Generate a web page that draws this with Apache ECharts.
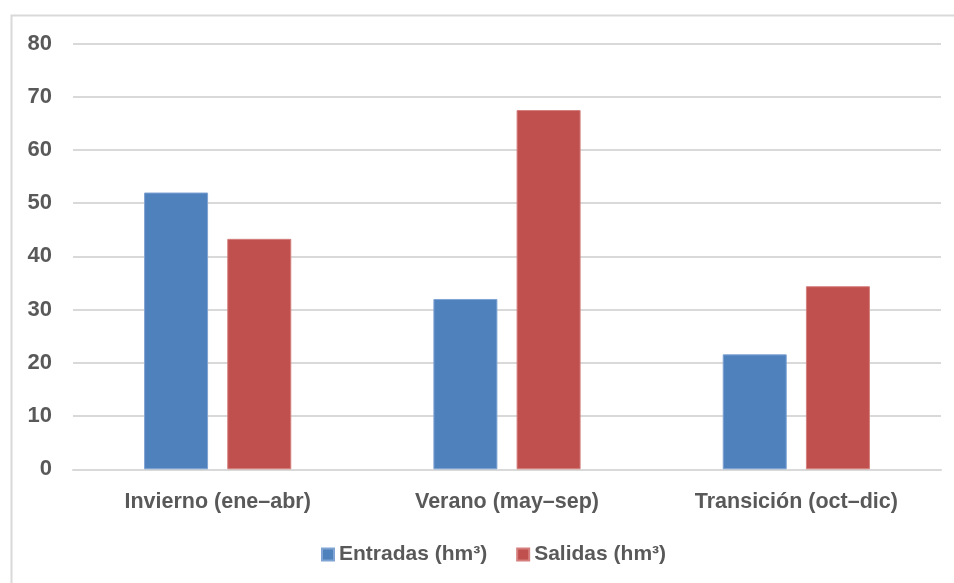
<!DOCTYPE html>
<html>
<head>
<meta charset="utf-8">
<script src="https://cdn.jsdelivr.net/npm/echarts@6/dist/echarts.min.js"></script>
<style>
  html, body { margin: 0; padding: 0; background: #ffffff; }
  #chart { width: 954px; height: 583px; }
</style>
</head>
<body>
<div id="chart"></div>
<script>
// Seasonal water balance: inflows vs outflows per period
const categories = ['Invierno (ene–abr)', 'Verano (may–sep)', 'Transición (oct–dic)'];
const entradas = [52.0, 32.0, 21.6];
const salidas = [43.3, 67.5, 34.4];
const seriesNames = ['Entradas (hm³)', 'Salidas (hm³)'];

const FONT = '"Liberation Sans", Arial, sans-serif';
const TEXT = '#595959';
const GRID = '#d9d9d9';

const chart = echarts.init(document.getElementById('chart'), null, { renderer: 'canvas' });

chart.setOption({
  backgroundColor: '#ffffff',
  animation: false,
  graphic: [{
    type: 'rect',
    left: 9, top: 13,
    shape: { width: 1000, height: 620 },
    style: { fill: 'none', stroke: GRID, lineWidth: 2 },
    silent: true
  }],
  grid: { left: 73, right: 13, top: 43.5, bottom: 113.7, containLabel: false },
  legend: {
    bottom: 13,
    left: 316,
    itemWidth: 12,
    itemHeight: 12,
    itemGap: 29,
    icon: 'rect',
    textStyle: { fontFamily: FONT, fontSize: 21, fontWeight: 'bold', color: TEXT },
    data: seriesNames
  },
  xAxis: {
    type: 'category',
    data: categories,
    axisTick: { show: false },
    axisLine: { lineStyle: { color: GRID, width: 2 } },
    axisLabel: { fontFamily: FONT, fontSize: 21.5, fontWeight: 'bold', color: TEXT, margin: 22 }
  },
  yAxis: {
    type: 'value',
    min: 0, max: 80, interval: 10,
    axisLine: { show: false },
    axisTick: { show: false },
    splitLine: { lineStyle: { color: GRID, width: 2 } },
    axisLabel: { fontFamily: FONT, fontSize: 22, fontWeight: 'bold', color: TEXT, margin: 21 }
  },
  series: [
    {
      name: seriesNames[0], type: 'bar', data: entradas,
      barWidth: 64, barGap: '30%',
      itemStyle: { color: '#4f81bd', borderColor: '#7fa3d3', borderWidth: 1 }
    },
    {
      name: seriesNames[1], type: 'bar', data: salidas,
      barWidth: 64, barGap: '30%',
      itemStyle: { color: '#c0504d', borderColor: '#d47f7d', borderWidth: 1 }
    }
  ]
});
</script>
</body>
</html>
